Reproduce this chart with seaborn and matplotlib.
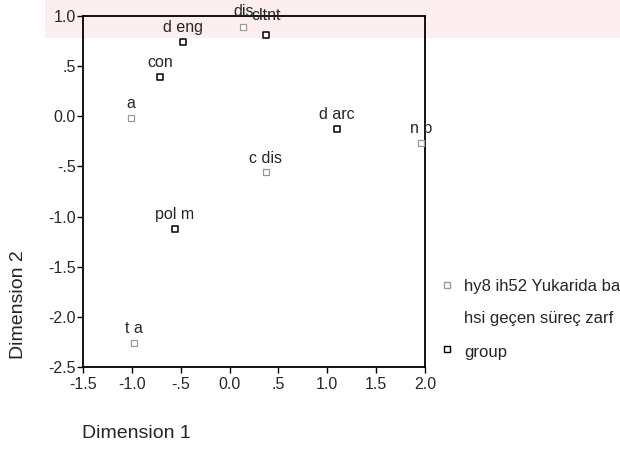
import matplotlib
matplotlib.use("Agg")
import matplotlib.pyplot as plt
import seaborn as sns
import pandas as pd
from matplotlib.lines import Line2D
from matplotlib.patches import Rectangle

labels = ["a", "con", "d eng", "dis", "cltnt", "d arc", "n p", "c dis", "pol m", "t a"]
dim1 = [-1.01, -0.71, -0.48, 0.14, 0.37, 1.10, 1.96, 0.37, -0.56, -0.98]
dim2 = [-0.02, 0.39, 0.74, 0.89, 0.81, -0.13, -0.27, -0.56, -1.12, -2.26]
groups = ["hy8", "group", "group", "hy8", "group", "group", "hy8", "hy8", "group", "hy8"]
xticks = [-1.5, -1.0, -0.5, 0.0, 0.5, 1.0, 1.5, 2.0]
xticklabels = ["-1.5", "-1.0", "-.5", "0.0", ".5", "1.0", "1.5", "2.0"]
yticks = [1.0, 0.5, 0.0, -0.5, -1.0, -1.5, -2.0, -2.5]
yticklabels = ["1.0", ".5", "0.0", "-.5", "-1.0", "-1.5", "-2.0", "-2.5"]
legend_labels = ["hy8 ih52 Yukarida ba", "hsi geçen süreç zarf", "group"]

df = pd.DataFrame({"label": labels, "Dimension 1": dim1, "Dimension 2": dim2, "grp": groups})

sns.set_style("white")
plt.rcParams["font.family"] = ["Liberation Sans", "DejaVu Sans"]

fig = plt.figure(figsize=(6.2, 4.5), dpi=100)
# faint watermark band at top
fig.add_artist(Rectangle((45 / 620, 1 - 38 / 450), 1 - 45 / 620, 38 / 450, transform=fig.transFigure,
                         facecolor="#fdeef0", edgecolor="none", zorder=0))
ax = fig.add_axes([83 / 620, 1 - 367 / 450, (425 - 83) / 620, (367 - 16) / 450])
ax.patch.set_alpha(0)

palette = {"hy8": "#9a9a9a", "group": "#000000"}
for g, sub in df.groupby("grp"):
    sns.scatterplot(data=sub, x="Dimension 1", y="Dimension 2", ax=ax, marker="s", s=15,
                    facecolor="white", edgecolor=palette[g],
                    linewidth=1.1 if g == "group" else 0.9, legend=False, zorder=3, clip_on=False)

offsets = {"dis": (0, 5.5), "cltnt": (0, 9)}
for _, r in df.iterrows():
    dx, dy = offsets.get(r["label"], (0, 5))
    ax.annotate(r["label"], (r["Dimension 1"], r["Dimension 2"]), xytext=(dx, dy),
                textcoords="offset points", ha="center", va="bottom", fontsize=11.5, zorder=4)

ax.set_xlim(-1.5, 2.0)
ax.set_ylim(-2.5, 1.0)
ax.set_xticks(xticks)
ax.set_xticklabels(xticklabels)
ax.set_yticks(yticks)
ax.set_yticklabels(yticklabels)
ax.tick_params(axis="both", which="both", direction="out", length=4, width=1, labelsize=11.5,
               left=True, bottom=True, color="black")
ax.tick_params(axis="x", pad=3)
ax.tick_params(axis="y", pad=1)
for sp in ax.spines.values():
    sp.set_color("black")
    sp.set_linewidth(1.3)
ax.set_xlabel("")
ax.set_ylabel("")

fig.text(82 / 620, 1 - 433 / 450, "Dimension 1", ha="left", va="center", fontsize=14)
fig.text(19 / 620, 1 - 305 / 450, "Dimension 2", ha="center", va="center", rotation=90, fontsize=14)

# legend
fig.add_artist(Line2D([447 / 620], [1 - 285 / 450], marker="s", markersize=4, markerfacecolor="white",
                      markeredgecolor="#9a9a9a", linestyle="none", transform=fig.transFigure))
fig.text(464 / 620, 1 - 286 / 450, legend_labels[0], ha="left", va="center", fontsize=12)
fig.text(464 / 620, 1 - 318 / 450, legend_labels[1], ha="left", va="center", fontsize=12)
fig.add_artist(Line2D([447 / 620], [1 - 349 / 450], marker="s", markersize=4, markerfacecolor="white",
                      markeredgecolor="black", linestyle="none", transform=fig.transFigure))
fig.text(464 / 620, 1 - 353 / 450, legend_labels[2], ha="left", va="center", fontsize=12)

fig.savefig("out.png", dpi=100)
